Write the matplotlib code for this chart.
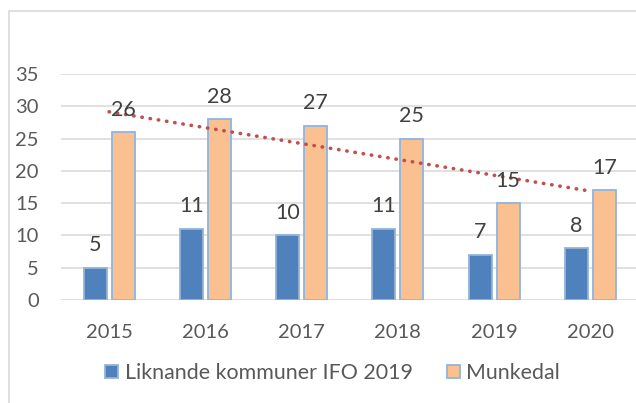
import matplotlib
import numpy as np
import matplotlib.pyplot as plt
from matplotlib.patches import Rectangle

matplotlib.use('Agg')

years = ['2015', '2016', '2017', '2018', '2019', '2020']
liknande = [5, 11, 10, 11, 7, 8]
munkedal = [26, 28, 27, 25, 15, 17]
series_names = ['Liknande kommuner IFO 2019', 'Munkedal']

plt.rcParams['font.family'] = ['Lato', 'DejaVu Sans']
txt = '#595959'

fig = plt.figure(figsize=(6.36, 4.03), dpi=100)
ax = fig.add_axes([0.0959, 0.2556, 0.908, 0.5608])

# рамка вокруг диаграммы (видна только слева и сверху)
fig.patches.append(Rectangle((9 / 636, -0.1), 1.2, 1 - 11 / 403 + 0.1, transform=fig.transFigure,
                             fill=False, edgecolor='#d9d9d9', linewidth=1.2))

x = np.arange(len(years))
w = 0.24
off = 0.145
b1 = ax.bar(x - off, liknande, width=w, color='#4f81bd', edgecolor='#95b3d7', linewidth=1.3,
            label=series_names[0], zorder=3)
b2 = ax.bar(x + off, munkedal, width=w, color='#fac090', edgecolor='#8eb4e3', linewidth=1.3,
            label=series_names[1], zorder=3)

for rect, v in list(zip(b1, liknande)) + list(zip(b2, munkedal)):
    ax.annotate(str(v), (rect.get_x() + rect.get_width() / 2, v), xytext=(0, 9),
                textcoords='offset points', ha='center', va='bottom', fontsize=15.5, color='#404040',
                zorder=5, annotation_clip=False)

# линейный тренд по Munkedal
k, b = np.polyfit(x, munkedal, 1)
ax.plot(x, k * x + b, linestyle=(0, (0.1, 2.2)), dash_capstyle='round', color='#c0504d',
        linewidth=2.6, zorder=4, clip_on=False)

ax.set_xlim(-0.5, 5.5)
ax.set_ylim(0, 35)
ax.set_yticks(range(0, 36, 5))
ax.set_xticks(x, years)
ax.tick_params(length=0, labelsize=14.5, colors=txt)
ax.tick_params(axis='y', pad=16)
ax.tick_params(axis='x', pad=17)
ax.grid(axis='y', color='#d9d9d9', linewidth=1.1, zorder=0)
for s in ax.spines.values():
    s.set_visible(False)

fig.legend(handles=[b1, b2], loc='center', bbox_to_anchor=(0.523, 1 - 373 / 403), ncol=2,
           frameon=False, fontsize=15.4, labelcolor=txt, handlelength=0.6, handleheight=0.6,
           handletextpad=0.3, columnspacing=1.6)

fig.savefig('out.png', dpi=100)
